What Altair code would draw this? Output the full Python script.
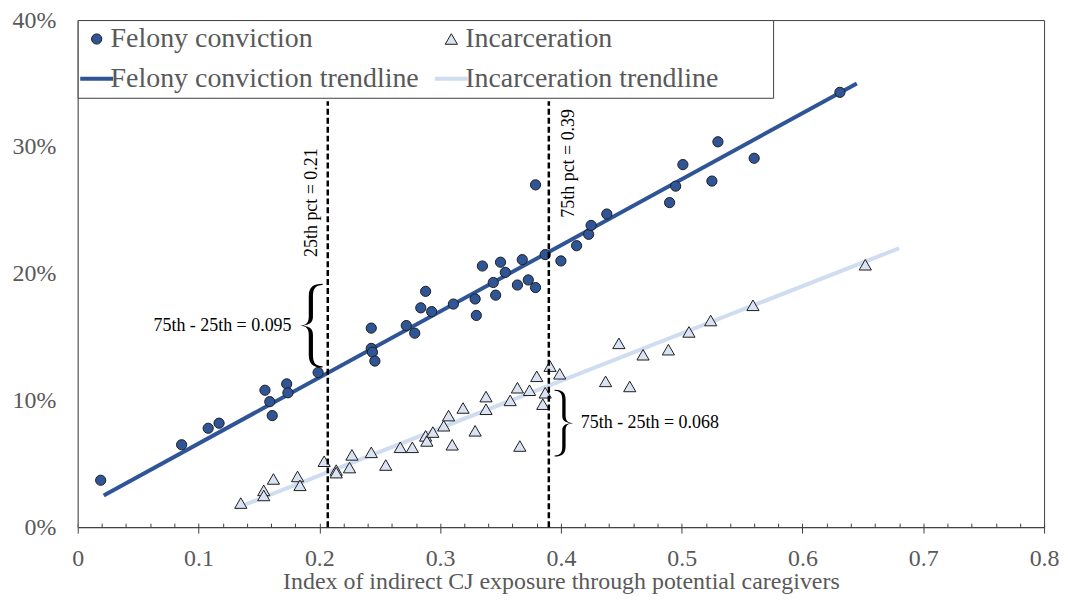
import altair as alt
import pandas as pd

SERIF = "Liberation Serif"

# ---------------- data ----------------
# legend order (laid out column by column: col 1 = felony, col 2 = incarceration)
SERIES = ["Felony conviction", "Felony conviction trendline",
          "Incarceration", "Incarceration trendline"]

felony_x = [0.019, 0.086, 0.108, 0.117, 0.155, 0.159, 0.161, 0.173, 0.174, 0.199,
            0.243, 0.243, 0.244, 0.246, 0.272, 0.279, 0.284, 0.288, 0.293, 0.311,
            0.329, 0.330, 0.335, 0.344, 0.346, 0.350, 0.354, 0.364, 0.368, 0.373,
            0.379, 0.379, 0.387, 0.400, 0.413, 0.423, 0.425, 0.438, 0.490, 0.495,
            0.501, 0.525, 0.530, 0.560, 0.631]
felony_y = [3.7, 6.5, 7.8, 8.2, 10.8, 9.9, 8.8, 11.3, 10.6, 12.2,
            15.7, 14.1, 13.8, 13.1, 15.9, 15.3, 17.3, 18.6, 17.0, 17.6,
            18.0, 16.7, 20.6, 19.3, 18.3, 20.9, 20.1, 19.1, 21.1, 19.5,
            18.9, 27.0, 21.5, 21.0, 22.2, 23.1, 23.8, 24.7, 25.6, 26.9,
            28.6, 27.3, 30.4, 29.1, 34.3]

incar_x = [0.135, 0.154, 0.154, 0.162, 0.182, 0.184, 0.204, 0.214, 0.214, 0.225,
           0.227, 0.243, 0.255, 0.267, 0.277, 0.288, 0.289, 0.294, 0.303, 0.307,
           0.310, 0.319, 0.329, 0.338, 0.338, 0.358, 0.364, 0.366, 0.374, 0.380,
           0.385, 0.387, 0.391, 0.399, 0.437, 0.448, 0.457, 0.468, 0.489, 0.506,
           0.524, 0.559, 0.652]
incar_y = [1.9, 2.9, 2.5, 3.8, 4.0, 3.3, 5.2, 4.5, 4.3, 4.7,
           5.7, 5.9, 4.9, 6.3, 6.3, 7.2, 6.8, 7.5, 8.0, 8.8,
           6.5, 9.4, 7.6, 9.3, 10.3, 10.0, 11.0, 6.4, 10.8, 11.9,
           9.7, 10.6, 12.7, 12.1, 11.5, 14.5, 11.1, 13.6, 14.0, 15.4,
           16.3, 17.5, 20.7]

felony_trend_x = [0.0215, 0.645]
felony_trend_y = [2.5, 35.0]
incar_trend_x = [0.131, 0.680]
incar_trend_y = [1.5, 22.0]

pct_x = [0.207, 0.390]
pct_top = [33.6, 33.6]
pct_labels = ["25th pct = 0.21", "75th pct = 0.39"]
pct_label_x = [0.194, 0.4066]
pct_label_y = [25.6, 28.7]

iqr_labels = ["75th - 25th = 0.095", "75th - 25th = 0.068"]
iqr_label_x = [0.177, 0.4165]
iqr_label_y = [15.9, 8.2]
brace_x = [0.193, 0.4025]
brace_y = [15.9, 8.2]

x_major = [0.0, 0.1, 0.2, 0.3, 0.4, 0.5, 0.6, 0.7, 0.8]
x_minor = [round(0.02 * i, 2) for i in range(41) if i % 5 != 0]
y_ticks = [0, 10, 20, 30, 40]

# ---------------- styles ----------------
FILLS = ["#2F5597", "#2F5597", "#DAE3F3", "#D0DCEF"]
STROKES = ["#1e1e1e", "#2F5597", "#1e1e1e", "#D0DCEF"]
SHAPES = ["circle", "stroke", "triangle-up", "stroke"]


def brace_path(sign):
    t = 0.05
    pts = [
        ("M", [(0.28, -1)]),
        ("C", [(0.06, -1), (-t, -0.92), (-t, -0.7)]),
        ("L", [(-t, -0.22)]),
        ("C", [(-t, -0.06), (-0.12, -0.01), (-0.28, 0)]),
        ("C", [(-0.12, 0.01), (-t, 0.06), (-t, 0.22)]),
        ("L", [(-t, 0.7)]),
        ("C", [(-t, 0.92), (0.06, 1), (0.28, 1)]),
        ("L", [(0.28, 0.97)]),
        ("C", [(0.12, 0.96), (t, 0.9), (t, 0.7)]),
        ("L", [(t, 0.22)]),
        ("C", [(t, 0.07), (-0.04, 0.02), (-0.2, 0)]),
        ("C", [(-0.04, -0.02), (t, -0.07), (t, -0.22)]),
        ("L", [(t, -0.7)]),
        ("C", [(t, -0.9), (0.12, -0.96), (0.28, -0.97)]),
    ]
    out = []
    for cmd, ps in pts:
        out.append(cmd + " ".join(f"{sign * px:.3f},{py:.3f}" for px, py in ps))
    return "".join(out) + "Z"


SIZE_EXPR = ("datum.value == 'Felony conviction' ? 105 : "
             "(datum.value == 'Incarceration' ? 150 : 1089)")
SW_EXPR = ("(datum.value == 'Felony conviction' || datum.value == 'Incarceration') ? 1 : 4")
# widen the legend frame on the right like the reference (blank space, then a zero-width char)
PAD = "\u00a0" * 7 + "\u200b"

legend = alt.Legend(
    title=None, orient="top-left", offset=0, columns=2, columnPadding=7,
    rowPadding=12, padding=5, labelFont=SERIF, labelFontSize=28,
    labelColor="#595959", labelLimit=800, labelOffset=0,
    symbolSize=alt.ExprRef(expr=SIZE_EXPR),
    symbolStrokeWidth=alt.ExprRef(expr=SW_EXPR),
    strokeColor="#404040", fillColor="white",
    labelExpr=f"datum.label == 'Incarceration trendline' ? datum.label + '{PAD}' : datum.label",
)

fill_enc = alt.Fill("series:N", scale=alt.Scale(domain=SERIES, range=FILLS), legend=legend)
stroke_enc = alt.Stroke("series:N", scale=alt.Scale(domain=SERIES, range=STROKES), legend=legend)
shape_enc = alt.Shape("series:N", scale=alt.Scale(domain=SERIES, range=SHAPES), legend=legend)

xs = alt.Scale(domain=[0, 0.8], nice=False, zero=False)
ys = alt.Scale(domain=[0, 40], nice=False, zero=False)

main_x_axis = alt.Axis(
    orient="bottom", values=x_major,
    labelExpr="datum.value == 0 ? '0' : format(datum.value, '.1f')",
    ticks=False, domain=True, domainColor="#404040", domainWidth=1, grid=False,
    labelFont=SERIF, labelFontSize=24, labelColor="#595959", labelPadding=19,
    labelFlush=False, labelOverlap=False,
    title="Index of indirect CJ exposure through potential caregivers",
    titleFont=SERIF, titleFontSize=24, titleColor="#595959", titleFontWeight="normal",
    titleY=62, titleBaseline="alphabetic",
)
major_axis = alt.Axis(orient="bottom", values=x_major, offset=-4, tickSize=10,
                      tickColor="#404040", tickWidth=1, domain=False, labels=False,
                      grid=False, title=None)
minor_axis = alt.Axis(orient="bottom", values=x_minor, offset=-4, tickSize=4,
                      tickColor="#404040", tickWidth=1, domain=False, labels=False,
                      grid=False, title=None)
y_axis = alt.Axis(orient="left", values=y_ticks, labelExpr="datum.value + '%'",
                  ticks=False, domain=True, domainColor="#7f7f7f", domainWidth=1,
                  grid=False, labelFont=SERIF, labelFontSize=24, labelColor="#595959",
                  labelPadding=22, labelFlush=False, labelOverlap=False, title=None)

felony_df = pd.DataFrame({"x": felony_x, "y": felony_y, "series": SERIES[0]})
incar_df = pd.DataFrame({"x": incar_x, "y": incar_y, "series": SERIES[2]})
trend_df = pd.DataFrame({
    "x": felony_trend_x + incar_trend_x,
    "y": felony_trend_y + incar_trend_y,
    "series": [SERIES[1]] * 2 + [SERIES[3]] * 2,
})
rules_df = pd.DataFrame({"x": pct_x, "y0": [0, 0], "y1": pct_top})
pct_df = pd.DataFrame({"x": pct_label_x, "y": pct_label_y, "t": pct_labels})
iqr_left_df = pd.DataFrame({"x": iqr_label_x[:1], "y": iqr_label_y[:1], "t": iqr_labels[:1]})
iqr_right_df = pd.DataFrame({"x": iqr_label_x[1:], "y": iqr_label_y[1:], "t": iqr_labels[1:]})
brace1_df = pd.DataFrame({"x": brace_x[:1], "y": brace_y[:1]})
brace2_df = pd.DataFrame({"x": brace_x[1:], "y": brace_y[1:]})

trend = alt.Chart(trend_df).mark_line(strokeWidth=4, strokeCap="butt").encode(
    x=alt.X("x:Q", scale=xs, axis=main_x_axis),
    y=alt.Y("y:Q", scale=ys, axis=y_axis),
    stroke=stroke_enc,
)
felony = alt.Chart(felony_df).mark_point(filled=True, opacity=1, size=105, strokeWidth=1).encode(
    x=alt.X("x:Q", scale=xs, axis=major_axis),
    y=alt.Y("y:Q", scale=ys, axis=None),
    fill=fill_enc, stroke=stroke_enc, shape=shape_enc,
)
incar = alt.Chart(incar_df).mark_point(filled=True, opacity=1, size=150, strokeWidth=1).encode(
    x=alt.X("x:Q", scale=xs, axis=minor_axis),
    y=alt.Y("y:Q", scale=ys, axis=None),
    fill=fill_enc, stroke=stroke_enc, shape=shape_enc,
)
rules = alt.Chart(rules_df).mark_rule(color="black", strokeWidth=2.5, strokeDash=[6, 3]).encode(
    x=alt.X("x:Q", scale=xs, axis=None),
    y=alt.Y("y0:Q", scale=ys, axis=None),
    y2="y1:Q",
)
pct_text = alt.Chart(pct_df).mark_text(angle=270, font=SERIF, fontSize=18, color="black",
                                       align="center", baseline="middle").encode(
    x=alt.X("x:Q", scale=xs, axis=None), y=alt.Y("y:Q", scale=ys, axis=None), text="t:N")
iqr_left = alt.Chart(iqr_left_df).mark_text(font=SERIF, fontSize=18, color="black",
                                            align="right", baseline="middle").encode(
    x=alt.X("x:Q", scale=xs, axis=None), y=alt.Y("y:Q", scale=ys, axis=None), text="t:N")
iqr_right = alt.Chart(iqr_right_df).mark_text(font=SERIF, fontSize=18, color="black",
                                              align="left", baseline="middle").encode(
    x=alt.X("x:Q", scale=xs, axis=None), y=alt.Y("y:Q", scale=ys, axis=None), text="t:N")
brace1 = alt.Chart(brace1_df).mark_point(shape=brace_path(1), size=7056, filled=True,
                                         color="black", opacity=1, strokeWidth=0).encode(
    x=alt.X("x:Q", scale=xs, axis=None), y=alt.Y("y:Q", scale=ys, axis=None))
brace2 = alt.Chart(brace2_df).mark_point(shape=brace_path(-1), size=4489, filled=True,
                                         color="black", opacity=1, strokeWidth=0).encode(
    x=alt.X("x:Q", scale=xs, axis=None), y=alt.Y("y:Q", scale=ys, axis=None))

chart = alt.layer(
    trend, felony, incar, rules, pct_text, iqr_left, iqr_right, brace1, brace2
).resolve_axis(x="independent", y="independent").properties(
    width=970, height=509,
    autosize=alt.AutoSizeParams(type="none"),
    padding={"left": 70, "top": 11, "right": 18, "bottom": 70},
).configure_view(stroke="#404040", strokeWidth=1)

chart.save("out.html", embed_options={"renderer": "svg", "actions": False})
